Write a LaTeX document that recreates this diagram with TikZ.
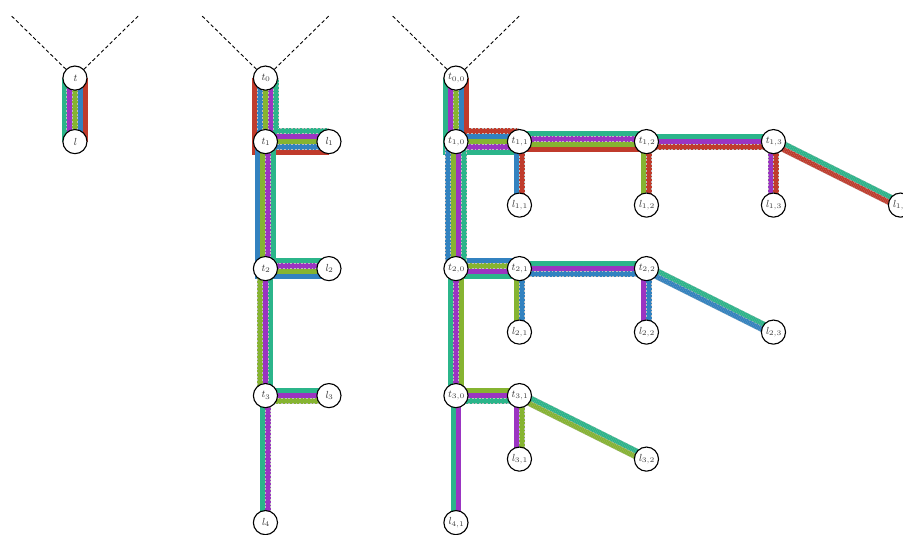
\documentclass[tikz,border=0pt]{standalone}
\usetikzlibrary{positioning,backgrounds}

\definecolor{pteal}{HTML}{2BB58A}
\definecolor{ppurple}{HTML}{9B34C2}
\definecolor{pgreen}{HTML}{86B431}
\definecolor{pblue}{HTML}{3282C0}
\definecolor{pred}{HTML}{C03B2C}

\def\sw{2.4pt}
\newcommand\lbl[2]{\textit{#1}\raisebox{-.35ex}{\fontsize{3.2}{3}\selectfont#2}}

\tikzset{
	vertex/.style={circle,draw,fill=white,line width=.5pt,minimum size=.38cm,inner sep=0pt,font=\fontsize{4.6}{5}\selectfont,text=black!75},
	strip/.style={preaction={draw=#1,line width=\sw},draw=white!75!black,line width=.18pt,dash pattern=on .8pt off .8pt,double=#1,double distance=2.04pt},
	rootline/.style={dash pattern=on 1.6pt off 1.1pt,line width=.4pt}
}

\begin{document}
\begin{tikzpicture}[node distance=1cm,on grid]
	\useasboundingbox (-1.18,-0.18) rectangle (13.04,8.23);
	
	% single edge
	\node[vertex] (t) at (0,7) {\textit{t}};
	\node[vertex] (l) [below=of t] {\textit{l}};
	
	% path
	\node[vertex] (t0) at (3,7) {\lbl{t}{0}};
	\node[vertex] (t1) [below=of t0] {\lbl{t}{1}};
	\node[vertex] (l1) [right=of t1] {\lbl{l}{1}};
	\node[vertex] (t2) [below=2cm of t1] {\lbl{t}{2}};
	\node[vertex] (l2) [right=of t2] {\lbl{l}{2}};
	\node[vertex] (t3) [below=2cm of t2] {\lbl{t}{3}};
	\node[vertex] (l3) [right=of t3] {\lbl{l}{3}};
	\node[vertex] (l4) [below=2cm of t3] {\lbl{l}{4}};
	
	% grid
	\node[vertex] (t00) at (6,7) {\lbl{t}{0,0}};
	\node[vertex] (t10) [below=of t00] {\lbl{t}{1,0}};
	\node[vertex] (t11) [right=of t10] {\lbl{t}{1,1}};
	\node[vertex] (t12) [right=2cm of t11] {\lbl{t}{1,2}};
	\node[vertex] (t13) [right=2cm of t12] {\lbl{t}{1,3}};
	\node[vertex] (l11) [below=of t11] {\lbl{l}{1,1}};
	\node[vertex] (l12) [below=of t12] {\lbl{l}{1,2}};
	\node[vertex] (l13) [below=of t13] {\lbl{l}{1,3}};
	\node[vertex] (l14) [right=2cm of l13] {\lbl{l}{1,4}};
	\node[vertex] (t20) [below=2cm of t10] {\lbl{t}{2,0}};
	\node[vertex] (t21) [right=of t20] {\lbl{t}{2,1}};
	\node[vertex] (t22) [right=2cm of t21] {\lbl{t}{2,2}};
	\node[vertex] (l21) [below=of t21] {\lbl{l}{2,1}};
	\node[vertex] (l22) [below=of t22] {\lbl{l}{2,2}};
	\node[vertex] (l23) [right=2cm of l22] {\lbl{l}{2,3}};
	\node[vertex] (t30) [below=2cm of t20] {\lbl{t}{3,0}};
	\node[vertex] (t31) [right=of t30] {\lbl{t}{3,1}};
	\node[vertex] (l31) [below=of t31] {\lbl{l}{3,1}};
	\node[vertex] (l32) [right=2cm of l31] {\lbl{l}{3,2}};
	\node[vertex] (l41) [below=2cm of t30] {\lbl{l}{4,1}};
	
	% dashed lines above the roots
	\foreach \r in {t,t0,t00} {
		\coordinate[above left=1cm and 1.02cm of \r] (\r w);
		\coordinate[above right=1cm and 1.02cm of \r] (\r e);
		\draw[rootline] (\r) -- (\r w);
		\draw[rootline] (\r) -- (\r e);
	}
	
	\begin{scope}[on background layer]
		\foreach \c/\d in {pteal/-2,ppurple/-1,pgreen/0,pblue/1,pred/2}
			\draw[strip=\c] ([xshift=\d*\sw]t.center) -- ([xshift=\d*\sw]l.center);
		
		\foreach \c/\d in {pred/-2,pblue/-1,pgreen/0,ppurple/1,pteal/2}
			\draw[strip=\c] ([xshift=\d*\sw]t0.center) -- ([shift={(\d*\sw,\d*\sw)}]t1.center) -- ([yshift=\d*\sw]l1.center);
		\foreach \c/\d in {pblue/-1.5,pgreen/-.5,ppurple/.5,pteal/1.5}
			\draw[strip=\c] ([xshift=\d*\sw]t1.center) -- ([shift={(\d*\sw,\d*\sw)}]t2.center) -- ([yshift=\d*\sw]l2.center);
		\foreach \c/\d in {pgreen/-1,ppurple/0,pteal/1}
			\draw[strip=\c] ([xshift=\d*\sw]t2.center) -- ([shift={(\d*\sw,\d*\sw)}]t3.center) -- ([yshift=\d*\sw]l3.center);
		\foreach \c/\d in {pteal/-.5,ppurple/.5}
			\draw[strip=\c] ([xshift=\d*\sw]t3.center) -- ([xshift=\d*\sw]l4.center);
		
		% first row
		\foreach \c/\d in {pteal/-2,ppurple/-1,pgreen/0,pblue/1,pred/2}
			\draw[strip=\c] ([xshift=\d*\sw]t00.center) -- ([shift={(\d*\sw,\d*\sw)}]t10.center) -- ([yshift=\d*\sw]t11.center);
		\foreach \c/\d in {pteal/1.5,ppurple/.5,pgreen/-.5,pred/-1.5}
			\draw[strip=\c] ([yshift=\d*\sw]t11.center) -- ([yshift=\d*\sw]t12.center);
		\foreach \c/\d in {pblue/-.5,pred/.5}
			\draw[strip=\c] ([xshift=\d*\sw]t11.center) -- ([xshift=\d*\sw]l11.center);
		\foreach \c/\d in {pteal/1,ppurple/0,pred/-1}
			\draw[strip=\c] ([yshift=\d*\sw]t12.center) -- ([yshift=\d*\sw]t13.center);
		\foreach \c/\d in {pgreen/-.5,pred/.5}
			\draw[strip=\c] ([xshift=\d*\sw]t12.center) -- ([xshift=\d*\sw]l12.center);
		\foreach \c/\d in {ppurple/-.5,pred/.5}
			\draw[strip=\c] ([xshift=\d*\sw]t13.center) -- ([xshift=\d*\sw]l13.center);
		\foreach \c/\d in {pteal/.5,pred/-.5}
			\draw[strip=\c] ([shift={(\d*.447*\sw,\d*.894*\sw)}]t13.center) -- ([shift={(\d*.447*\sw,\d*.894*\sw)}]l14.center);
		
		% second row
		\foreach \c/\d/\e in {pblue/-1.5/1.5,pgreen/-.5/.5,ppurple/.5/-.5,pteal/1.5/-1.5}
			\draw[strip=\c] ([xshift=\d*\sw]t10.center) -- ([shift={(\d*\sw,\e*\sw)}]t20.center) -- ([yshift=\e*\sw]t21.center);
		\foreach \c/\d in {pteal/1,ppurple/0,pblue/-1}
			\draw[strip=\c] ([yshift=\d*\sw]t21.center) -- ([yshift=\d*\sw]t22.center);
		\foreach \c/\d in {pgreen/-.5,pblue/.5}
			\draw[strip=\c] ([xshift=\d*\sw]t21.center) -- ([xshift=\d*\sw]l21.center);
		\foreach \c/\d in {ppurple/-.5,pblue/.5}
			\draw[strip=\c] ([xshift=\d*\sw]t22.center) -- ([xshift=\d*\sw]l22.center);
		\foreach \c/\d in {pteal/.5,pblue/-.5}
			\draw[strip=\c] ([shift={(\d*.447*\sw,\d*.894*\sw)}]t22.center) -- ([shift={(\d*.447*\sw,\d*.894*\sw)}]l23.center);
		
		% third row
		\foreach \c/\d in {pteal/-1,ppurple/0,pgreen/1}
			\draw[strip=\c] ([xshift=\d*\sw]t20.center) -- ([shift={(\d*\sw,\d*\sw)}]t30.center) -- ([yshift=\d*\sw]t31.center);
		\foreach \c/\d in {pteal/-.5,ppurple/.5}
			\draw[strip=\c] ([xshift=\d*\sw]t30.center) -- ([xshift=\d*\sw]l41.center);
		\foreach \c/\d in {ppurple/-.5,pgreen/.5}
			\draw[strip=\c] ([xshift=\d*\sw]t31.center) -- ([xshift=\d*\sw]l31.center);
		\foreach \c/\d in {pteal/.5,pgreen/-.5}
			\draw[strip=\c] ([shift={(\d*.447*\sw,\d*.894*\sw)}]t31.center) -- ([shift={(\d*.447*\sw,\d*.894*\sw)}]l32.center);
	\end{scope}
\end{tikzpicture}
\end{document}
